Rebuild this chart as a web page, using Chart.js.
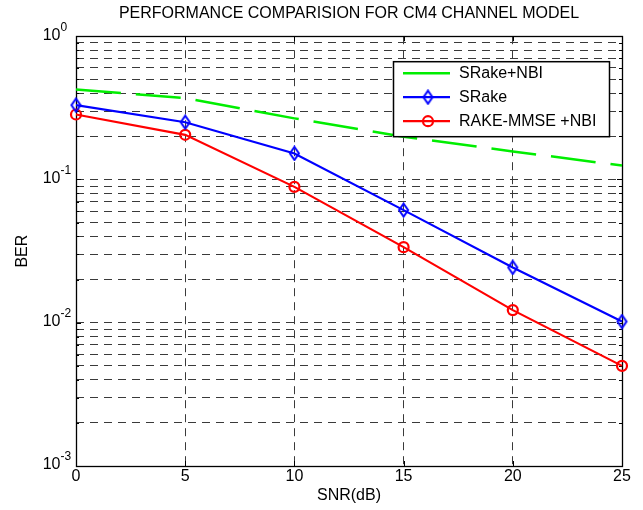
<!DOCTYPE html>
<html>
<head>
<meta charset="utf-8">
<title>BER vs SNR - CM4</title>
<script src="https://cdn.jsdelivr.net/npm/chart.js@4.4.1/dist/chart.umd.min.js"></script>
<style>
  html, body { margin: 0; padding: 0; background: #fff; }
  #wrap { width: 643px; height: 510px; }
</style>
</head>
<body>
<div id="wrap"><canvas id="ber"></canvas></div>
<script>
// ---- data ----
const snr = [0, 5, 10, 15, 20, 25];
const berSRakeNbi = [0.425, 0.37, 0.267, 0.199, 0.157, 0.125];
const berSRake = [0.330, 0.251, 0.152, 0.0611, 0.0243, 0.0102];
const berRakeMmseNbi = [0.284, 0.205, 0.0888, 0.0337, 0.01225, 0.005];

const seriesLabels = ['SRake+NBI', 'SRake', 'RAKE-MMSE +NBI'];
const xTicks = [0, 5, 10, 15, 20, 25];
const yDecades = [1e-3, 1e-2, 1e-1, 1];
const yMinorSteps = [2, 3, 4, 5, 6, 7, 8, 9];

const titleText = 'PERFORMANCE COMPARISION FOR CM4 CHANNEL MODEL';
const FONT = '"Liberation Sans", Arial, Helvetica, sans-serif';
const gridColor = '#3a3a3a';

// hollow diamond marker, a bit taller than wide like the original
function makeDiamond(color) {
    const c = document.createElement('canvas');
    c.width = 13; c.height = 16;
    const g = c.getContext('2d');
    g.strokeStyle = color;
    g.lineWidth = 2;
    g.beginPath();
    g.moveTo(6.5, 1.5);
    g.lineTo(11, 8);
    g.lineTo(6.5, 14.5);
    g.lineTo(2, 8);
    g.closePath();
    g.stroke();
    return c;
}
const diamond = makeDiamond('#0000ff');

// y ticks: every 1..9 x decade, majors at the decades
function yTickList() {
    const out = [];
    yDecades.forEach((d, i) => {
        out.push({ value: d, major: true });
        if (i < yDecades.length - 1) {
            yMinorSteps.forEach(m => out.push({ value: +(d * m).toPrecision(3), major: false }));
        }
    });
    return out;
}

// box round the axes + inward tick marks
const framePlugin = {
    id: 'frame',
    beforeDatasetsDraw(chart) {
        const { ctx, chartArea: a, scales: { x, y } } = chart;
        ctx.save();
        ctx.strokeStyle = '#000';
        ctx.lineWidth = 1;
        ctx.beginPath();
        x.ticks.forEach(t => {
            const px = Math.round(x.getPixelForValue(t.value)) + 0.5;
            ctx.moveTo(px, a.bottom); ctx.lineTo(px, a.bottom - 5);
            ctx.moveTo(px, a.top); ctx.lineTo(px, a.top + 5);
        });
        y.ticks.forEach(t => {
            const py = Math.round(y.getPixelForValue(t.value)) + 0.5;
            const len = t.major ? 5 : 3;
            ctx.moveTo(a.left, py); ctx.lineTo(a.left + len, py);
            ctx.moveTo(a.right, py); ctx.lineTo(a.right - len, py);
        });
        ctx.stroke();
        ctx.lineWidth = 1.3;
        ctx.strokeRect(Math.round(a.left) + 0.5, Math.round(a.top) + 0.5,
            Math.round(a.right - a.left), Math.round(a.bottom - a.top));
        ctx.restore();
    }
};

// 10^n labels with a raised exponent
const powerLabels = {
    id: 'powerLabels',
    afterDraw(chart) {
        const { ctx, chartArea: a, scales: { y } } = chart;
        const xBase = a.left - 15.5;
        ctx.save();
        ctx.fillStyle = '#000';
        ctx.textBaseline = 'middle';
        y.ticks.filter(t => t.major).forEach(t => {
            const py = y.getPixelForValue(t.value);
            const ex = String(Math.round(Math.log10(t.value)));
            ctx.font = '16px ' + FONT;
            ctx.textAlign = 'right';
            ctx.fillText('10', xBase, py - 1);
            ctx.font = '12px ' + FONT;
            ctx.textAlign = 'left';
            ctx.fillText(ex, xBase, py - 9);
        });
        ctx.restore();
    }
};

// boxed legend in the upper right of the axes
const boxLegend = {
    id: 'boxLegend',
    afterDraw(chart) {
        const { ctx, chartArea: a } = chart;
        const w = 216, h = 75;
        const left = a.right - 229, top = a.top + 25;
        ctx.save();
        ctx.fillStyle = '#fff';
        ctx.fillRect(left, top, w, h);
        ctx.strokeStyle = '#000';
        ctx.lineWidth = 1.5;
        ctx.strokeRect(left + 0.5, top + 0.5, w, h);
        chart.data.datasets.forEach((ds, i) => {
            const cy = top + 12 + i * 24;
            ctx.strokeStyle = ds.borderColor;
            ctx.lineWidth = ds.borderWidth;
            ctx.setLineDash([]);
            ctx.beginPath();
            ctx.moveTo(left + 10, cy);
            ctx.lineTo(left + 57, cy);
            ctx.stroke();
            const mx = left + 35;
            if (ds.pointStyle instanceof HTMLCanvasElement) {
                ctx.drawImage(ds.pointStyle, mx - ds.pointStyle.width / 2, cy - ds.pointStyle.height / 2);
            } else if (ds.pointStyle === 'circle' && ds.pointRadius > 0) {
                ctx.lineWidth = ds.pointBorderWidth;
                ctx.beginPath();
                ctx.arc(mx, cy, ds.pointRadius, 0, Math.PI * 2);
                ctx.stroke();
            }
            ctx.fillStyle = '#000';
            ctx.font = '16px ' + FONT;
            ctx.textAlign = 'left';
            ctx.textBaseline = 'middle';
            ctx.fillText(ds.label, left + 66, cy);
        });
        ctx.restore();
    }
};

const toPts = (ys) => snr.map((x, i) => ({ x: x, y: ys[i] }));

new Chart(document.getElementById('ber'), {
    type: 'line',
    data: {
        datasets: [
            {
                label: seriesLabels[0],
                data: toPts(berSRakeNbi),
                borderColor: '#00ee00',
                borderWidth: 2.5,
                borderDash: [45, 15],
                pointRadius: 0,
                pointStyle: false,
                tension: 0,
                clip: false
            },
            {
                label: seriesLabels[1],
                data: toPts(berSRake),
                borderColor: '#0000ff',
                borderWidth: 2.2,
                pointStyle: diamond,
                pointRadius: 6,
                tension: 0,
                clip: false
            },
            {
                label: seriesLabels[2],
                data: toPts(berRakeMmseNbi),
                borderColor: '#ff0000',
                borderWidth: 2.2,
                pointStyle: 'circle',
                pointRadius: 5,
                pointBorderWidth: 2.2,
                pointBorderColor: '#ff0000',
                pointBackgroundColor: 'rgba(0,0,0,0)',
                tension: 0,
                clip: false
            }
        ]
    },
    options: {
        responsive: true,
        maintainAspectRatio: false,
        animation: false,
        layout: { padding: { left: 0, right: 21, top: 0, bottom: 0 } },
        plugins: {
            legend: { display: false },
            tooltip: { enabled: false },
            title: {
                display: true,
                text: titleText,
                fullSize: false,
                color: '#000',
                font: { family: FONT, size: 16, weight: 'normal' },
                padding: { top: 4, bottom: 13 }
            }
        },
        scales: {
            x: {
                type: 'linear',
                min: 0,
                max: 25,
                afterBuildTicks: s => { s.ticks = xTicks.map(v => ({ value: v })); },
                afterFit: s => { s.height = 44; },
                ticks: { color: '#000', font: { family: FONT, size: 16 }, padding: 1, maxRotation: 0, autoSkip: false },
                grid: { color: gridColor, lineWidth: 1, drawTicks: false },
                border: { display: false, dash: [8, 6] },
                title: {
                    display: true, text: 'SNR(dB)', color: '#000',
                    font: { family: FONT, size: 16 }, padding: { top: 0, bottom: 5 }
                }
            },
            y: {
                type: 'logarithmic',
                min: 1e-3,
                max: 1,
                afterBuildTicks: s => { s.ticks = yTickList(); },
                afterFit: s => { s.width = 76; },
                ticks: { display: false },
                grid: { color: gridColor, lineWidth: 1, drawTicks: false },
                border: { display: false, dash: [8, 6] },
                title: {
                    display: true, text: 'BER', color: '#000',
                    font: { family: FONT, size: 16 }, padding: { top: 13, bottom: 0 }
                }
            }
        }
    },
    plugins: [framePlugin, powerLabels, boxLegend]
});
</script>
</body>
</html>
